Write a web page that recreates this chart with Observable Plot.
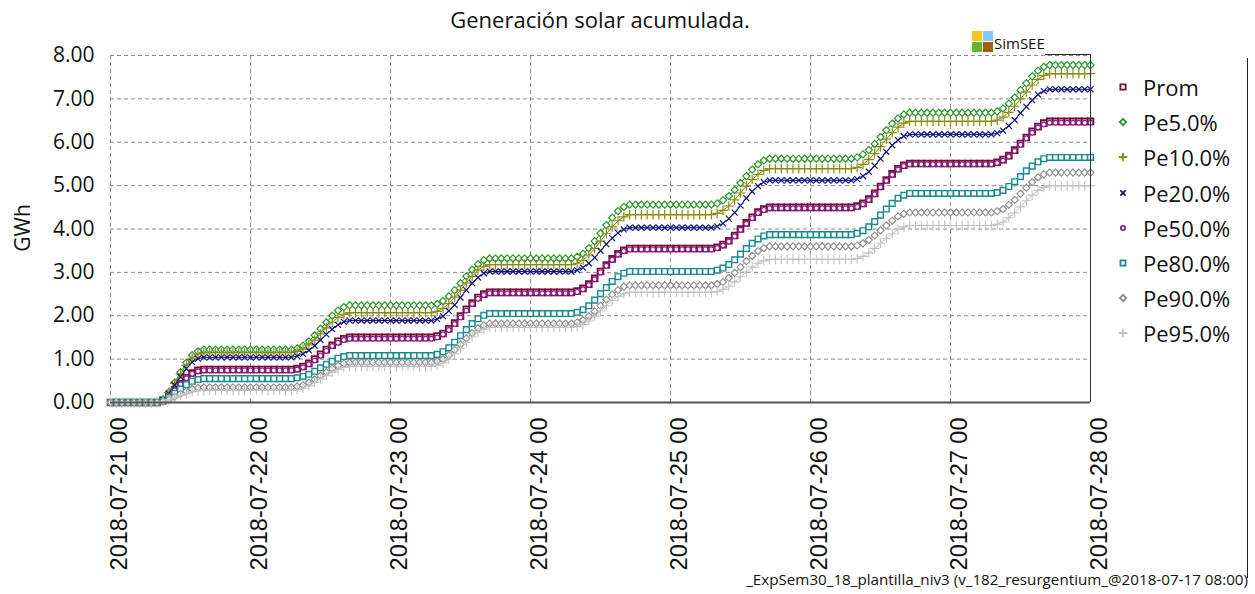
<!DOCTYPE html>
<html><head><meta charset="utf-8">
<script src="https://cdn.jsdelivr.net/npm/d3@7"></script>
<script src="https://cdn.jsdelivr.net/npm/@observablehq/plot@0.6"></script>
<style>
body{margin:0;background:#fff;font-family:"Open Sans","Noto Sans",sans-serif;color:#111;}
#wrap{position:relative;width:1255px;height:594px;overflow:hidden;}
#chart{position:absolute;left:0;top:0;}
#title{position:absolute;left:110px;width:980px;top:4px;text-align:center;font-size:22px;}
#ylab{position:absolute;left:22px;top:228px;font-size:21px;transform:translate(-50%,-50%) rotate(-90deg);}
#logo{position:absolute;left:972px;top:31px;}
#logo span{position:absolute;width:10px;height:10px;}
#logotext{position:absolute;left:994px;top:33px;font-size:15px;}
#logoline{position:absolute;left:1045px;top:54px;width:46px;height:0;border-top:1px solid #222;}
#legend{position:absolute;left:0;top:0;}
.lg{position:absolute;left:1114px;height:30px;display:flex;align-items:center;font-size:22px;}
.lg svg{width:18px;height:18px;margin-right:11px;}
#rframe{position:absolute;left:1247px;top:58px;width:0;height:520px;border-left:1px solid #222;}
#caption{position:absolute;right:7px;top:569px;font-size:15.2px;white-space:nowrap;}
</style></head><body>
<div id="wrap">
<div id="chart"></div>
<div id="title">Generación solar acumulada.</div>
<div id="ylab">GWh</div>
<div id="logo"><span style="left:0;top:0;background:#f5c51c"></span><span style="left:11px;top:0;background:#86c8f2"></span><span style="left:0;top:11px;background:#5fb82c"></span><span style="left:11px;top:11px;background:#9a6510"></span></div>
<div id="logotext">SimSEE</div>
<div id="logoline"></div>
<div id="legend"></div>
<div id="rframe"></div>
<div id="caption">_ExpSem30_18_plantilla_niv3 (v_182_resurgentium_@2018-07-17 08:00)</div>
</div>
<script>
// ---- data (GWh, cumulative). Per day: values at 08:00..17:00; flat during the night ----
const seriesNames = ["Prom","Pe5.0%","Pe10.0%","Pe20.0%","Pe50.0%","Pe80.0%","Pe90.0%","Pe95.0%"];
const startDay = "2018-07-21";
const dayTicks = ["2018-07-21 00","2018-07-22 00","2018-07-23 00","2018-07-24 00","2018-07-25 00","2018-07-26 00","2018-07-27 00","2018-07-28 00"];
const yTicks = [0,1,2,3,4,5,6,7,8];
const firstRampHour = 8;

const prom = [
 [0.00,0.05,0.15,0.29,0.43,0.57,0.68,0.74,0.76,0.76],
 [0.78,0.83,0.90,1.00,1.11,1.22,1.32,1.41,1.47,1.50],
 [1.53,1.59,1.70,1.83,1.99,2.15,2.29,2.42,2.50,2.54],
 [2.57,2.63,2.73,2.86,3.02,3.17,3.31,3.43,3.51,3.55],
 [3.58,3.64,3.73,3.85,4.00,4.14,4.27,4.39,4.46,4.50],
 [4.53,4.59,4.69,4.82,4.98,5.13,5.27,5.39,5.47,5.51],
 [5.54,5.60,5.69,5.82,5.97,6.11,6.25,6.36,6.44,6.48]];
const pe5 = [
 [0.00,0.07,0.24,0.46,0.70,0.92,1.09,1.18,1.22,1.22],
 [1.25,1.31,1.41,1.55,1.70,1.85,2.00,2.12,2.20,2.24],
 [2.27,2.34,2.45,2.59,2.75,2.91,3.06,3.19,3.28,3.32],
 [3.36,3.43,3.56,3.72,3.90,4.09,4.26,4.41,4.51,4.56],
 [4.59,4.66,4.76,4.90,5.06,5.22,5.37,5.49,5.58,5.62],
 [5.65,5.72,5.82,5.96,6.12,6.28,6.43,6.55,6.64,6.68],
 [6.71,6.78,6.89,7.03,7.20,7.36,7.52,7.65,7.74,7.78]];
const pe10 = [
 [0.00,0.07,0.23,0.44,0.66,0.86,1.02,1.12,1.15,1.15],
 [1.18,1.23,1.33,1.44,1.58,1.72,1.85,1.96,2.03,2.07],
 [2.10,2.17,2.28,2.43,2.59,2.76,2.91,3.05,3.14,3.18],
 [3.21,3.28,3.40,3.55,3.72,3.89,4.05,4.19,4.28,4.33],
 [4.36,4.43,4.53,4.67,4.83,4.99,5.14,5.26,5.35,5.39],
 [5.42,5.49,5.60,5.74,5.90,6.07,6.22,6.35,6.44,6.48],
 [6.51,6.58,6.69,6.83,7.00,7.16,7.32,7.45,7.54,7.58]];
const pe20 = [
 [0.00,0.06,0.21,0.40,0.59,0.78,0.93,1.01,1.04,1.04],
 [1.07,1.12,1.20,1.31,1.44,1.57,1.69,1.79,1.86,1.89],
 [1.92,1.99,2.11,2.25,2.42,2.59,2.75,2.88,2.98,3.02],
 [3.05,3.11,3.21,3.34,3.50,3.65,3.79,3.91,3.99,4.03],
 [4.06,4.13,4.24,4.38,4.54,4.71,4.86,4.99,5.08,5.12],
 [5.15,5.22,5.32,5.46,5.62,5.78,5.93,6.05,6.14,6.18],
 [6.21,6.27,6.38,6.51,6.67,6.82,6.97,7.10,7.18,7.22]];
const pe50 = [
 [0.00,0.04,0.15,0.28,0.42,0.56,0.66,0.72,0.74,0.74],
 [0.76,0.81,0.88,0.97,1.08,1.19,1.30,1.38,1.44,1.47],
 [1.50,1.57,1.67,1.81,1.96,2.12,2.27,2.39,2.48,2.52],
 [2.55,2.61,2.71,2.84,3.00,3.15,3.29,3.41,3.49,3.53],
 [3.56,3.62,3.71,3.83,3.98,4.12,4.25,4.37,4.44,4.48],
 [4.51,4.57,4.67,4.80,4.96,5.11,5.25,5.37,5.45,5.49],
 [5.52,5.58,5.67,5.80,5.94,6.09,6.22,6.34,6.41,6.45]];
const pe80 = [
 [0.00,0.03,0.11,0.21,0.31,0.41,0.49,0.53,0.55,0.55],
 [0.57,0.60,0.65,0.72,0.80,0.88,0.95,1.02,1.06,1.08],
 [1.11,1.17,1.26,1.39,1.54,1.68,1.82,1.93,2.01,2.05],
 [2.08,2.14,2.23,2.36,2.51,2.65,2.79,2.90,2.98,3.02],
 [3.05,3.10,3.18,3.29,3.42,3.55,3.67,3.77,3.84,3.87],
 [3.90,3.96,4.05,4.17,4.32,4.46,4.59,4.71,4.78,4.82],
 [4.84,4.89,4.98,5.09,5.21,5.34,5.45,5.55,5.62,5.65]];
const pe90 = [
 [0.00,0.02,0.07,0.13,0.20,0.26,0.31,0.34,0.35,0.35],
 [0.37,0.40,0.46,0.53,0.62,0.70,0.78,0.85,0.90,0.92],
 [0.95,1.00,1.09,1.21,1.34,1.48,1.60,1.71,1.78,1.82],
 [1.85,1.90,1.99,2.10,2.23,2.37,2.49,2.59,2.67,2.70],
 [2.73,2.78,2.87,2.99,3.12,3.26,3.38,3.49,3.56,3.60],
 [3.62,3.67,3.75,3.85,3.97,4.08,4.19,4.29,4.35,4.38],
 [4.41,4.46,4.56,4.67,4.81,4.95,5.08,5.19,5.26,5.30]];
const pe95 = [
 [0.00,0.02,0.06,0.11,0.16,0.21,0.25,0.27,0.28,0.28],
 [0.30,0.33,0.39,0.46,0.54,0.62,0.70,0.76,0.81,0.83],
 [0.86,0.91,1.00,1.12,1.25,1.39,1.51,1.62,1.69,1.73],
 [1.75,1.80,1.88,1.99,2.11,2.23,2.35,2.44,2.51,2.54],
 [2.56,2.61,2.68,2.78,2.90,3.01,3.12,3.21,3.27,3.30],
 [3.32,3.37,3.45,3.55,3.67,3.78,3.89,3.99,4.05,4.08],
 [4.11,4.16,4.26,4.37,4.51,4.65,4.78,4.89,4.96,5.00]];

// ---- styles ----
const colors  = ["#7c0a36","#2a962a","#8a8a12","#14147c","#8a1f8a","#178a8a","#8a8a8a","#c2c2c2"];
const symbols = ["square","diamond2","plus","times","circle","square","diamond2","plus"];
const radii   = [3.3,3.2,3.2,2.8,2.4,3.2,3.2,3.2];
const dotWidths = [1.8,1.2,1.2,1.2,1.2,1.4,1.1,1.1];

// ---- build hourly rows (night hours keep the previous value) ----
const allSeries = [prom,pe5,pe10,pe20,pe50,pe80,pe90,pe95];
const t0 = new Date(startDay + "T00:00:00Z");
const rows = [];
allSeries.forEach((days, si) => {
  let prev = 0;
  days.forEach((vals, d) => {
    for (let h = 0; h < 24; h++) {
      const v = h < firstRampHour ? prev : vals[Math.min(h - firstRampHour, vals.length - 1)];
      rows.push({s: seriesNames[si], si, t: new Date(+t0 + (d*24 + h)*3600e3), v});
    }
    prev = vals[vals.length - 1];
  });
  rows.push({s: seriesNames[si], si, t: new Date(+t0 + 7*24*3600e3), v: prev});
});
const dayDates = dayTicks.map(s => new Date(s.slice(0,10) + "T00:00:00Z"));

const marks = [
  Plot.gridY(yTicks, {stroke:"#8a8a8a", strokeOpacity:1, strokeDasharray:"4,3"}),
  Plot.gridX(dayDates, {stroke:"#8a8a8a", strokeOpacity:1, strokeDasharray:"4,3"}),
  Plot.axisY(yTicks, {tickFormat: d => d.toFixed(2), tickSize:0, tickPadding:16, fontSize:21, label:null, fill:"#111"}),
  Plot.axisX(dayDates, {tickFormat: d => dayTicks[dayDates.findIndex(x => +x === +d)], rotate:-90, textAnchor:"end", tickSize:0, tickPadding:15, fontSize:23.5, fontFamily:"Liberation Sans, Arial, sans-serif", label:null, fill:"#111"}),
];
seriesNames.forEach((name, i) => {
  const data = rows.filter(r => r.si === i);
  marks.push(Plot.line(data, {x:"t", y:"v", stroke:colors[i], strokeWidth:1}));
  marks.push(Plot.dot(data, {x:"t", y:"v", symbol:() => symbols[i], r:radii[i], stroke:colors[i], fill:"white", strokeWidth:dotWidths[i]}));
});
marks.push(Plot.ruleY([0], {stroke:"#555", strokeWidth:2}));
marks.push(Plot.ruleX([dayDates[dayDates.length-1]], {stroke:"#333", strokeWidth:1}));

const chart = Plot.plot({
  width:1255, height:594,
  marginLeft:110, marginRight:165, marginTop:55, marginBottom:192,
  style:{fontFamily:"'Open Sans', sans-serif", background:"transparent", overflow:"visible"},
  x:{type:"utc", domain:[dayDates[0], dayDates[dayDates.length-1]]},
  y:{domain:[0,8]},
  symbol:{type:"identity"},
  marks
});
document.getElementById("chart").append(chart);

// ---- legend ----
const lg = document.getElementById("legend");
const rowY = [87,122,157,193,228,263,298,333];
seriesNames.forEach((name, i) => {
  const div = document.createElement("div");
  div.className = "lg";
  div.style.top = (rowY[i] - 15) + "px";
  const sym = {square:d3.symbolSquare, diamond2:d3.symbolDiamond2, plus:d3.symbolPlus, times:d3.symbolTimes, circle:d3.symbolCircle}[symbols[i]];
  const path = d3.symbol(sym, Math.PI*radii[i]*radii[i]*0.8)();
  div.innerHTML = `<svg viewBox="-9 -9 18 18"><path d="${path}" fill="white" stroke="${colors[i]}" stroke-width="1.8"/></svg><span>${name}</span>`;
  lg.append(div);
});
</script>
</body></html>
